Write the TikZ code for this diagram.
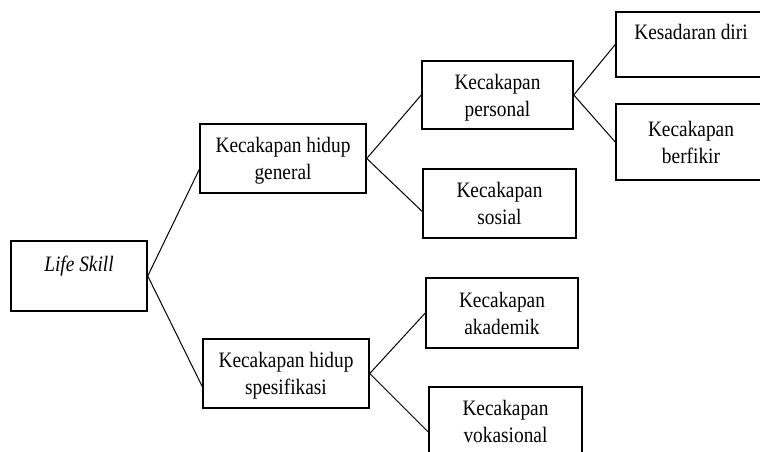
\documentclass[tikz,border=0pt]{standalone}
\usepackage{fontspec}
\setmainfont{Liberation Serif}[FakeStretch=0.88]
\tikzset{
	kotak/.style={draw, line width=1.5pt, align=center, inner sep=0pt, text depth=0pt, font=\fontsize{22}{27}\selectfont},
	satubaris/.style={text height=15pt, text depth=25pt},
	garis/.style={line width=1pt}
}
\begin{document}
	\begin{tikzpicture}[x=1pt, y=-1pt]
		\useasboundingbox (0,0) rectangle (760,452);
		\clip (0,0) rectangle (760,452);
		% Root
		\node[kotak, satubaris, minimum width=136pt, minimum height=70pt] (life) at (79,276) {\textit{Life Skill}};
		% Second level
		\node[kotak, minimum width=166pt, minimum height=69pt] (general) at (283,158.5) {Kecakapan hidup\\general};
		\node[kotak, minimum width=166pt, minimum height=69pt] (spesifik) at (286,373.5) {Kecakapan hidup\\spesifikasi};
		% Third level
		\node[kotak, minimum width=151pt, minimum height=68pt] (personal) at (497.5,95) {Kecakapan\\personal};
		\node[kotak, minimum width=153pt, minimum height=69pt] (sosial) at (499.5,203.5) {Kecakapan\\sosial};
		\node[kotak, minimum width=152pt, minimum height=70pt] (akademik) at (502,313) {Kecakapan\\akademik};
		\node[kotak, minimum width=153pt, minimum height=68pt] (vokasi) at (505.5,421) {Kecakapan\\vokasional};
		% Fourth level
		\node[kotak, satubaris, minimum width=150pt, minimum height=65pt] (sadar) at (691,44.5) {Kesadaran diri};
		\node[kotak, minimum width=150pt, minimum height=76pt] (fikir) at (691,142) {Kecakapan\\berfikir};
		% Connectors
		\draw[garis] (life.east) -- ([yshift=-11pt]general.west);
		\draw[garis] (life.east) -- ([yshift=-13pt]spesifik.west);
		\draw[garis] (general.east) -- (personal.west);
		\draw[garis] (general.east) -- ([yshift=-8pt]sosial.west);
		\draw[garis] (spesifik.east) -- (akademik.west);
		\draw[garis] (spesifik.east) -- ([yshift=-11pt]vokasi.west);
		\draw[garis] (personal.east) -- (sadar.west);
		\draw[garis] (personal.east) -- (fikir.west);
	\end{tikzpicture}
\end{document}
